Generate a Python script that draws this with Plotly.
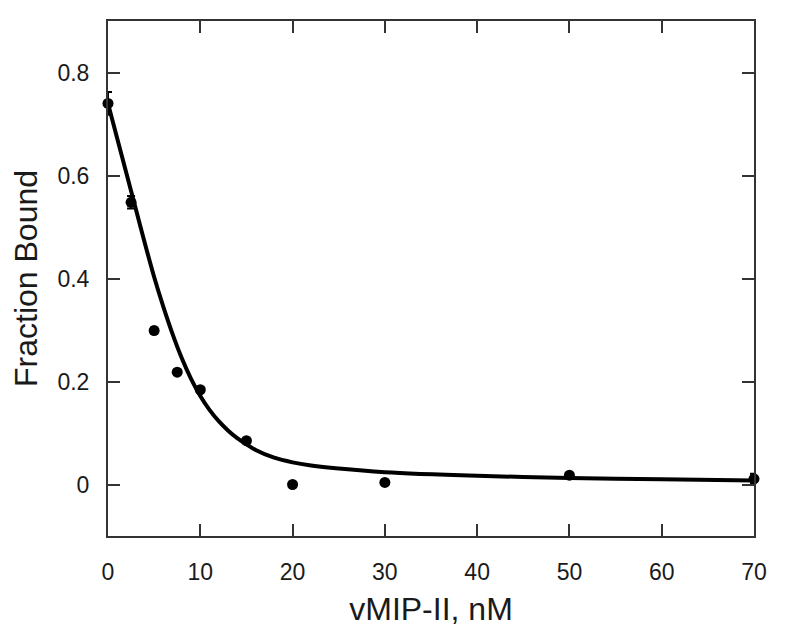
import plotly.graph_objects as go

# Measured data
conc = [0, 2.5, 5, 7.5, 10, 15, 20, 30, 50, 70]
fraction_bound = [0.74, 0.548, 0.299, 0.218, 0.184, 0.085, 0.0, 0.004, 0.018, 0.011]
error = [0.022, 0.012, 0.006, 0.005, 0.004, 0.004, 0.003, 0.003, 0.004, 0.010]

# Fitted curve
fit_x = [0, 1, 2, 3, 4, 5, 6, 7, 8, 9, 10, 11, 12, 13, 14, 15, 16, 18, 20, 22, 25, 30, 40, 50, 60, 70]
fit_y = [0.74, 0.672, 0.604, 0.536, 0.468, 0.403, 0.345, 0.292, 0.245, 0.205, 0.172, 0.145,
         0.123, 0.105, 0.09, 0.078, 0.067, 0.052, 0.043, 0.037, 0.031, 0.024, 0.017, 0.0125, 0.010, 0.008]

x_ticks = [0, 10, 20, 30, 40, 50, 60, 70]
y_ticks = [0, 0.2, 0.4, 0.6, 0.8]
y_ticktext = ["0", "0.2", "0.4", "0.6", "0.8"]

FONT = "Liberation Sans, Arial, sans-serif"

fig = go.Figure()
fig.add_trace(go.Scatter(
    x=fit_x, y=fit_y, mode="lines",
    line=dict(color="black", width=4, shape="spline", smoothing=0.7),
    showlegend=False, cliponaxis=False, hoverinfo="skip"))
fig.add_trace(go.Scatter(
    x=conc, y=fraction_bound, mode="markers",
    marker=dict(color="black", size=11),
    error_y=dict(type="data", array=error, color="black", thickness=2, width=4),
    showlegend=False, cliponaxis=False))

axis_common = dict(
    showline=True, linecolor="#333333", linewidth=2, mirror="ticks",
    ticks="inside", ticklen=12, tickwidth=2, tickcolor="#333333",
    showgrid=False, zeroline=False,
    tickfont=dict(family=FONT, size=23, color="#1a1a1a"),
)

fig.update_xaxes(
    range=[0, 70], tickvals=x_ticks, ticklabelstandoff=14,
    title=dict(text="vMIP-II, nM", font=dict(family=FONT, size=32, color="#1a1a1a"), standoff=14),
    **axis_common)
fig.update_yaxes(
    range=[-0.1, 0.9], tickvals=y_ticks, ticktext=y_ticktext, ticklabelstandoff=12,
    title=dict(text="Fraction Bound", font=dict(family=FONT, size=32, color="#1a1a1a"), standoff=16),
    **axis_common)

fig.update_layout(
    width=787, height=637,
    margin=dict(l=99, r=41, t=11, b=109),
    plot_bgcolor="white", paper_bgcolor="white",
)

fig.write_html("out.html")
